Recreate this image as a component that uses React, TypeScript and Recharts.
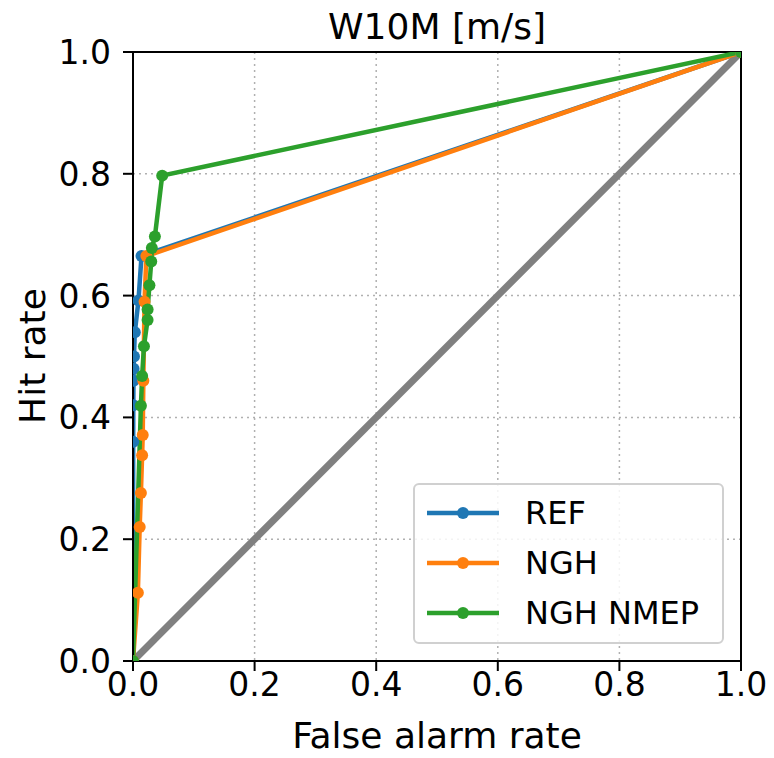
import {
  LineChart,
  Line,
  XAxis,
  YAxis,
  CartesianGrid,
  ReferenceArea,
} from "recharts";

// axis ticks
const TICKS = [0, 0.2, 0.4, 0.6, 0.8, 1.0];
const TICK_LABELS = ["0.0", "0.2", "0.4", "0.6", "0.8", "1.0"];

// REF
const REF_FAR = [0, 0.0003, 0.0005, 0.0008, 0.001, 0.0016, 0.003, 0.009, 0.014, 1];
const REF_HR = [0, 0.36, 0.42, 0.46, 0.48, 0.5, 0.54, 0.592, 0.665, 1];

// NGH
const NGH_FAR = [0, 0.008, 0.011, 0.013, 0.015, 0.016, 0.017, 0.019, 0.022, 1];
const NGH_HR = [0, 0.112, 0.22, 0.276, 0.338, 0.371, 0.46, 0.59, 0.665, 1];

// NGH NMEP
const NMEP_FAR = [0, 0.013, 0.015, 0.018, 0.024, 0.024, 0.027, 0.03, 0.031, 0.036, 0.048, 1];
const NMEP_HR = [0, 0.419, 0.468, 0.517, 0.56, 0.577, 0.617, 0.656, 0.678, 0.697, 0.797, 1];

const DIAG = [0, 1];

const zip = (xs: number[], ys: number[]) => xs.map((x, i) => ({ x, y: ys[i] }));

const SERIES = [
  { name: "REF", color: "#1f77b4", data: zip(REF_FAR, REF_HR) },
  { name: "NGH", color: "#ff7f0e", data: zip(NGH_FAR, NGH_HR) },
  { name: "NGH NMEP", color: "#2ca02c", data: zip(NMEP_FAR, NMEP_HR) },
];

const FONT = "'DejaVu Sans', sans-serif";

const fmt = (v: number) => TICK_LABELS[TICKS.indexOf(v)] ?? v.toFixed(1);

const XTick = ({ x, y, payload }: any) => (
  <text x={x} y={y + 23} textAnchor="middle" fontSize={33} fontFamily={FONT} fill="#000">
    {fmt(payload.value)}
  </text>
);

const YTick = ({ x, y, payload }: any) => (
  <text x={x - 10} y={y + 12} textAnchor="end" fontSize={33} fontFamily={FONT} fill="#000">
    {fmt(payload.value)}
  </text>
);

const LegendBox = () => (
  <div
    style={{
      position: "absolute",
      left: 413,
      top: 483,
      width: 311,
      height: 161,
      border: "2px solid #d0d0d0",
      borderRadius: 6,
      background: "rgba(255,255,255,0.85)",
      fontFamily: FONT,
      fontSize: 32,
      boxSizing: "border-box",
      paddingTop: 3,
    }}
  >
    {SERIES.map((s) => (
      <div key={s.name} style={{ display: "flex", alignItems: "center", height: 50 }}>
        <svg width={100} height={20} style={{ marginLeft: 10 }}>
          <line x1={2} y1={10} x2={74} y2={10} stroke={s.color} strokeWidth={4.5} />
          <circle cx={38} cy={10} r={6} fill={s.color} />
        </svg>
        <span>{s.name}</span>
      </div>
    ))}
  </div>
);

const label = {
  position: "absolute" as const,
  fontFamily: FONT,
  fontSize: 36,
  whiteSpace: "nowrap" as const,
};

export default function App() {
  return (
    <div style={{ position: "absolute", left: 0, top: 0, width: 774, height: 758, background: "#fff" }}>
      <div style={{ ...label, left: 133, width: 608, top: 6, textAlign: "center" }}>W10M [m/s]</div>
      <div style={{ ...label, left: 133, width: 608, top: 715, textAlign: "center" }}>False alarm rate</div>
      <div
        style={{
          ...label,
          left: 32,
          top: 356,
          transform: "translate(-50%, -50%) rotate(-90deg)",
        }}
      >
        Hit rate
      </div>
      <LineChart
        width={774}
        height={758}
        margin={{ top: 52, right: 33, bottom: 0, left: 0 }}
        style={{ position: "absolute", left: 0, top: 0 }}
      >
        <CartesianGrid stroke="#b0b0b0" strokeDasharray="2 4" strokeWidth={1.5} />
        <XAxis
          type="number"
          dataKey="x"
          domain={[0, 1]}
          ticks={TICKS}
          allowDataOverflow
          height={97}
          tickSize={10}
          tickLine={{ stroke: "#000", strokeWidth: 2 }}
          axisLine={{ stroke: "#000", strokeWidth: 2 }}
          tick={<XTick />}
        />
        <YAxis
          type="number"
          dataKey="y"
          domain={[0, 1]}
          ticks={TICKS}
          allowDataOverflow
          width={133}
          tickSize={10}
          tickLine={{ stroke: "#000", strokeWidth: 2 }}
          axisLine={{ stroke: "#000", strokeWidth: 2 }}
          tick={<YTick />}
        />
        <Line
          data={zip(DIAG, DIAG)}
          dataKey="y"
          stroke="#808080"
          strokeWidth={7}
          dot={false}
          legendType="none"
          isAnimationActive={false}
        />
        {SERIES.map((s) => (
          <Line
            key={s.name}
            name={s.name}
            data={s.data}
            dataKey="y"
            stroke={s.color}
            strokeWidth={4.5}
            dot={{ r: 6, fill: s.color, stroke: s.color, strokeWidth: 0 }}
            activeDot={false}
            isAnimationActive={false}
          />
        ))}
        <ReferenceArea x1={0} x2={1} y1={0} y2={1} fill="none" stroke="#000" strokeWidth={2} />
      </LineChart>
      <LegendBox />
    </div>
  );
}
